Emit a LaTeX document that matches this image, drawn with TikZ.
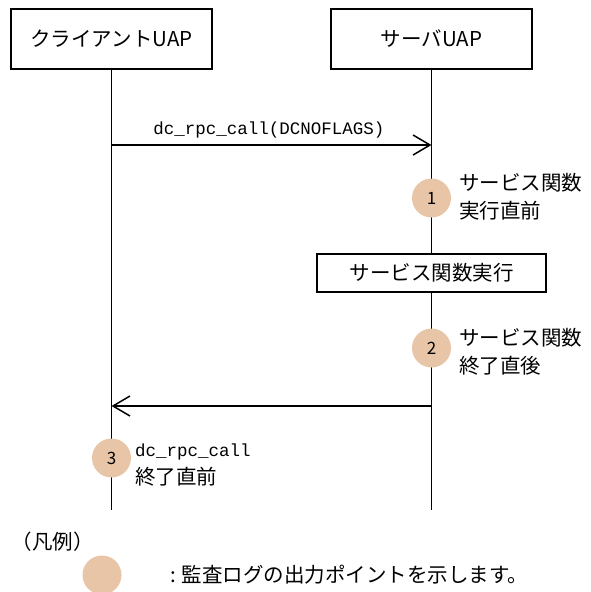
\documentclass[tikz,border=0pt]{standalone}
\usepackage{fontspec}
\setmainfont{Noto Sans CJK JP}
\newfontfamily\monofont{Liberation Mono}
\usetikzlibrary{arrows.meta}
\definecolor{peach}{RGB}{232,197,166}
\begin{document}
\begin{tikzpicture}[x=1pt,y=-1pt,
  every node/.style={inner sep=0pt, outer sep=0pt},
  lbl/.style={font=\fontsize{20.5}{28}\selectfont},
  monolbl/.style={font=\fontsize{17.5}{28}\monofont\selectfont},
  box/.style={draw, line width=1.5pt, fill=white, font=\fontsize{20.5}{24}\selectfont},
  life/.style={line width=1.5pt},
  msg/.style={line width=1.5pt, -{Straight Barb[length=17pt,width=20pt,line width=1.5pt]}},
  auditpt/.style={circle, fill=peach, minimum size=39pt, font=\fontsize{17}{20}\selectfont}
]
\useasboundingbox (0,0) rectangle (590,592);
% participants
\node[box, minimum width=201pt, minimum height=60pt] (client) at (111.5,39) {クライアントUAP};
\node[box, minimum width=201pt, minimum height=60pt] (server) at (431.5,39) {サーバUAP};
\coordinate (cend) at (111.5,510);
\coordinate (send) at (431.5,510);
\draw[life] (client.south) -- (cend);
\draw[life] (server.south) -- (send);
% call arrow
\coordinate (c1) at (111.5,145);
\coordinate (s1) at (431.5,145);
\draw[msg] (c1) -- (s1);
\node[monolbl] (calllbl) at (269,130) {dc\_rpc\_call(DCNOFLAGS)};
% point 1
\node[auditpt] (m1) at (431.5,198) {1};
\node[lbl, anchor=west, align=left] (t1) at (459,197) {サービス関数\\実行直前};
% service box
\node[box, minimum width=229pt, minimum height=38pt] (svc) at (431.5,273) {サービス関数実行};
% point 2
\node[auditpt] (m2) at (431.5,348) {2};
\node[lbl, anchor=west, align=left] (t2) at (459,352) {サービス関数\\終了直後};
% return arrow
\coordinate (s2) at (431.5,406);
\coordinate (c2) at (111.5,406);
\draw[msg] (s2) -- (c2);
% point 3
\node[auditpt] (m3) at (111.5,458) {3};
\node[lbl, anchor=west, align=left] (t3) at (135,465) {{\fontsize{17.5}{28}\monofont\selectfont dc\_rpc\_call}\\終了直前};
% legend
\node[lbl] (legend) at (53,542) {（凡例）};
\node[auditpt] (lm) at (102,575) {};
\node[lbl, anchor=west] (lt) at (170,575) {: 監査ログの出力ポイントを示します。};
\end{tikzpicture}
\end{document}
